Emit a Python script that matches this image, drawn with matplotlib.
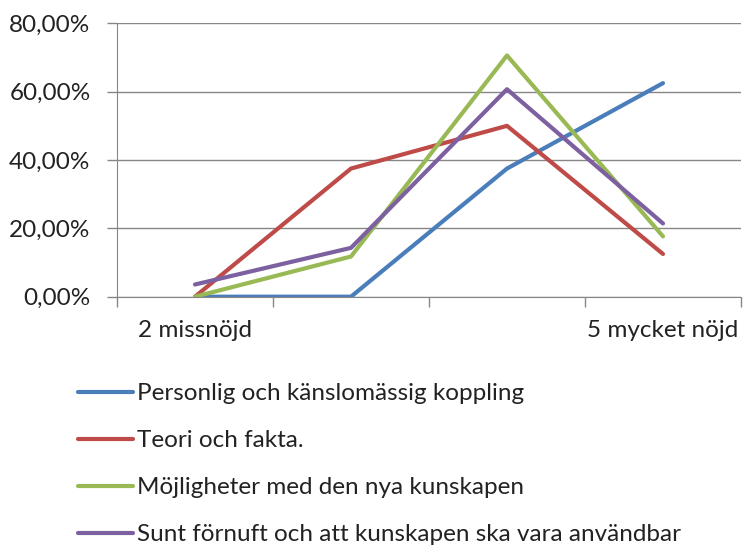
import numpy as np
import matplotlib
matplotlib.use("Agg")
import matplotlib.pyplot as plt
from matplotlib.ticker import FuncFormatter

plt.rcParams['font.family'] = ['Lato', 'DejaVu Sans']

categories = ["2 missnöjd", "3", "4", "5 mycket nöjd"]
shown_labels = ["2 missnöjd", "", "", "5 mycket nöjd"]

personlig = [0.0, 0.0, 37.5, 62.5]
teori = [0.0, 37.5, 50.0, 12.5]
mojligheter = [0.0, 11.76, 70.59, 17.65]
sunt = [3.57, 14.29, 60.71, 21.43]

series_names = [
    "Personlig och känslomässig koppling",
    "Teori och fakta.",
    "Möjligheter med den nya kunskapen",
    "Sunt förnuft och att kunskapen ska vara användbar",
]
colors = ["#4A7EBB", "#BE4B48", "#98B954", "#7D60A0"]

fig = plt.figure(figsize=(7.46, 5.45), dpi=100)
ax = fig.add_axes([0.1568, 0.4556, 0.8365, 0.5016])

x = np.arange(len(categories))
for vals, name, c in zip([personlig, teori, mojligheter, sunt], series_names, colors):
    ax.plot(x, vals, color=c, lw=3.0, label=name, solid_capstyle='round', solid_joinstyle='round')

grid_c = "#868686"
ax.set_ylim(0, 80)
ax.set_yticks([0, 20, 40, 60, 80])
ax.yaxis.set_major_formatter(FuncFormatter(lambda v, p: f"{v:.2f}%".replace(".", ",")))
ax.grid(axis='y', color=grid_c, lw=1.0)
ax.set_axisbelow(True)

ax.set_xlim(-0.5, 3.5)
ax.set_xticks(x)
ax.set_xticklabels(shown_labels)
ax.set_xticks(np.arange(-0.5, 4.0, 1.0), minor=True)
ax.tick_params(axis='x', which='major', length=0, pad=17, labelsize=17.5, colors='#222222')
ax.tick_params(axis='x', which='minor', length=7, width=1.0, color=grid_c)
ax.tick_params(axis='y', length=7, width=1.0, color=grid_c, pad=12, labelsize=17.5, labelcolor='#222222')

for s in ['top', 'right']:
    ax.spines[s].set_visible(False)
ax.spines['left'].set_color(grid_c)
ax.spines['bottom'].set_color(grid_c)

fig.legend(loc='upper left', bbox_to_anchor=(78 / 746, 1 - 383 / 545), frameon=False,
           fontsize=17.5, handlelength=2.26, handletextpad=0.17, labelspacing=1.07,
           borderaxespad=0, borderpad=0, labelcolor='#222222')

fig.savefig("out.png", dpi=100)
